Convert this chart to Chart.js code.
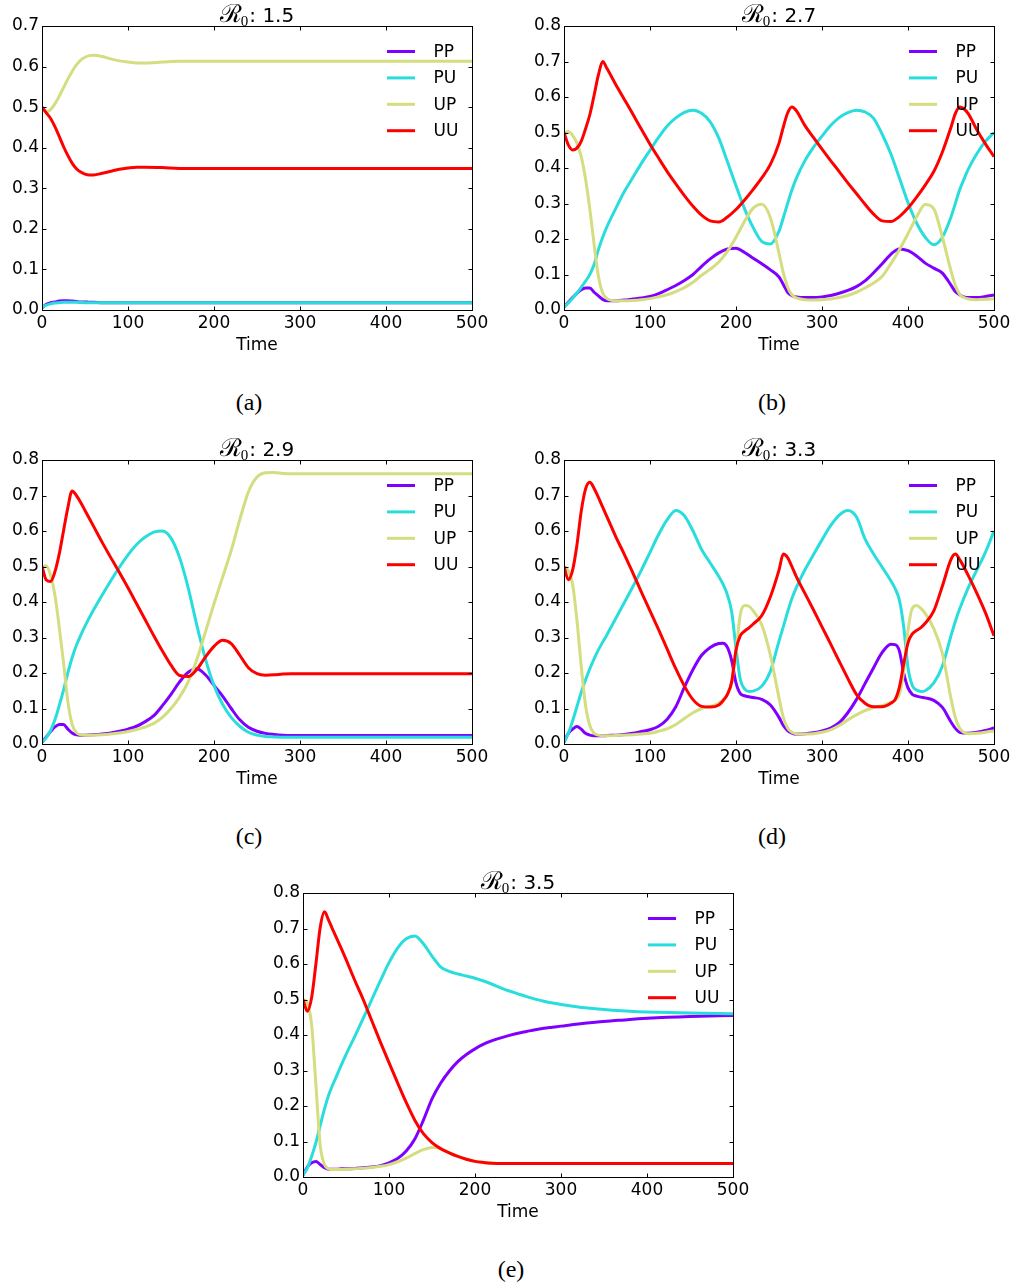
<!DOCTYPE html>
<html>
<head>
<meta charset="utf-8">
<script src="https://cdn.jsdelivr.net/npm/chart.js@4.4.0/dist/chart.umd.min.js"></script>
<style>
  body { margin: 0; background: #fff; }
  #page { position: relative; width: 1019px; height: 1288px; overflow: hidden; background: #fff; }
  .panel { position: absolute; }
  .cap { position: absolute; width: 80px; margin-left: -40px; text-align: center;
         font-family: "Liberation Serif", "DejaVu Serif", serif; font-size: 24px; line-height: 24px; color: #000; }
</style>
</head>
<body>
<div id="page">
  <canvas class="panel" id="chartA" width="496" height="360" style="left:0px;top:0px"></canvas>
  <canvas class="panel" id="chartB" width="496" height="360" style="left:522px;top:0px"></canvas>
  <canvas class="panel" id="chartC" width="496" height="360" style="left:0px;top:434px"></canvas>
  <canvas class="panel" id="chartD" width="496" height="360" style="left:522px;top:434px"></canvas>
  <canvas class="panel" id="chartE" width="496" height="360" style="left:261px;top:867px"></canvas>
  <div class="cap" style="left:249px;top:390px">(a)</div>
  <div class="cap" style="left:772px;top:390px">(b)</div>
  <div class="cap" style="left:249px;top:824px">(c)</div>
  <div class="cap" style="left:772px;top:824px">(d)</div>
  <div class="cap" style="left:511px;top:1257px">(e)</div>
</div>
<script>
// series names and R0 value of each panel
const seriesNames = ['PP', 'PU', 'UP', 'UU'];
const seriesColors = ['#8000ff', '#2adddd', '#d4dd80', '#ff0000'];
const r0Labels = ['1.5', '2.7', '2.9', '3.3', '3.5'];
const xTicks = [0, 100, 200, 300, 400, 500];

// (a) R0 = 1.5
const timeA = [0,5,10,15,20,25,30,35,40,45,50,55,60,70,80,90,100,110,120,140,160,180,200,250,300,350,400,450,500];
const ppA = [0.005,0.014,0.018,0.020,0.022,0.023,0.023,0.022,0.021,0.020,0.020,0.019,0.019,0.018,0.018,0.018,0.018,0.018,0.018,0.018,0.018,0.018,0.018,0.018,0.018,0.018,0.018,0.018,0.018];
const puA = [0.007,0.012,0.015,0.017,0.018,0.019,0.019,0.019,0.019,0.019,0.018,0.018,0.018,0.018,0.018,0.018,0.018,0.018,0.018,0.018,0.018,0.018,0.018,0.018,0.018,0.018,0.018,0.018,0.018];
const upA = [0.500,0.488,0.494,0.508,0.527,0.548,0.569,0.588,0.604,0.616,0.623,0.627,0.628,0.625,0.619,0.614,0.611,0.609,0.609,0.611,0.613,0.613,0.613,0.613,0.613,0.613,0.613,0.613,0.613];
const uuA = [0.500,0.486,0.472,0.452,0.428,0.403,0.381,0.362,0.348,0.340,0.335,0.333,0.333,0.337,0.342,0.347,0.350,0.352,0.352,0.351,0.349,0.349,0.349,0.349,0.349,0.349,0.349,0.349,0.349];

// (b) R0 = 2.7
const timeB = [0,5,10,15,20,25,30,35,40,45,50,60,70,80,90,100,110,120,130,140,150,160,170,180,190,200,210,220,230,240,250,255,260,265,270,280,290,300,310,320,330,340,350,360,370,380,390,400,410,420,430,440,450,455,460,465,470,480,490,500];
const ppB = [0.008,0.022,0.035,0.047,0.057,0.062,0.062,0.050,0.040,0.030,0.026,0.026,0.028,0.031,0.034,0.038,0.046,0.057,0.069,0.083,0.100,0.123,0.144,0.161,0.172,0.174,0.162,0.146,0.130,0.113,0.093,0.072,0.050,0.040,0.037,0.035,0.035,0.037,0.041,0.047,0.055,0.066,0.082,0.105,0.130,0.157,0.172,0.167,0.152,0.132,0.118,0.104,0.070,0.052,0.043,0.037,0.035,0.035,0.038,0.042];
const puB = [0.008,0.020,0.033,0.048,0.064,0.081,0.100,0.128,0.170,0.205,0.235,0.285,0.333,0.373,0.413,0.450,0.486,0.518,0.541,0.557,0.563,0.554,0.530,0.484,0.418,0.350,0.285,0.232,0.193,0.186,0.222,0.260,0.300,0.338,0.370,0.420,0.458,0.490,0.520,0.542,0.556,0.563,0.558,0.540,0.495,0.440,0.372,0.303,0.245,0.205,0.184,0.205,0.262,0.300,0.338,0.368,0.396,0.440,0.475,0.500];
const upB = [0.500,0.503,0.492,0.470,0.432,0.370,0.285,0.185,0.095,0.048,0.032,0.026,0.026,0.027,0.029,0.032,0.037,0.043,0.052,0.063,0.078,0.098,0.115,0.135,0.165,0.205,0.250,0.287,0.298,0.260,0.160,0.105,0.065,0.043,0.034,0.029,0.028,0.029,0.031,0.035,0.041,0.050,0.062,0.076,0.095,0.130,0.170,0.215,0.262,0.297,0.285,0.205,0.110,0.070,0.045,0.035,0.031,0.029,0.030,0.032];
const uuB = [0.500,0.465,0.451,0.456,0.475,0.510,0.550,0.605,0.662,0.700,0.680,0.636,0.594,0.552,0.509,0.467,0.428,0.390,0.355,0.322,0.292,0.267,0.251,0.248,0.262,0.283,0.310,0.340,0.372,0.410,0.470,0.515,0.555,0.572,0.562,0.520,0.486,0.453,0.421,0.390,0.358,0.328,0.298,0.270,0.251,0.249,0.263,0.287,0.318,0.352,0.390,0.445,0.515,0.553,0.572,0.567,0.553,0.508,0.468,0.432];

// (c) R0 = 2.9
const timeC = [0,5,10,15,20,25,30,35,40,45,50,60,70,80,90,100,110,120,130,140,150,160,170,180,190,200,210,220,230,240,250,260,270,280,290,300,350,400,450,500];
const ppC = [0.005,0.020,0.035,0.048,0.055,0.055,0.042,0.031,0.026,0.025,0.025,0.026,0.028,0.031,0.036,0.042,0.050,0.063,0.080,0.108,0.140,0.175,0.202,0.212,0.195,0.165,0.135,0.100,0.068,0.047,0.036,0.030,0.027,0.025,0.024,0.024,0.024,0.024,0.024,0.024];
const puC = [0.005,0.018,0.038,0.068,0.108,0.152,0.200,0.243,0.278,0.306,0.332,0.378,0.420,0.460,0.498,0.533,0.562,0.583,0.597,0.600,0.580,0.525,0.440,0.335,0.240,0.165,0.112,0.075,0.050,0.033,0.025,0.021,0.020,0.019,0.019,0.019,0.019,0.019,0.019,0.019];
const upC = [0.500,0.502,0.475,0.420,0.330,0.230,0.120,0.056,0.032,0.026,0.025,0.025,0.026,0.028,0.031,0.035,0.041,0.048,0.058,0.075,0.100,0.132,0.175,0.238,0.315,0.395,0.470,0.545,0.632,0.710,0.752,0.764,0.765,0.762,0.761,0.761,0.761,0.761,0.761,0.761];
const uuC = [0.500,0.462,0.458,0.485,0.535,0.600,0.665,0.713,0.700,0.680,0.658,0.613,0.568,0.525,0.483,0.440,0.395,0.350,0.305,0.262,0.222,0.193,0.190,0.210,0.245,0.275,0.292,0.283,0.250,0.215,0.198,0.194,0.195,0.197,0.198,0.198,0.198,0.198,0.198,0.198];

// (d) R0 = 3.3
const timeD = [0,5,10,15,20,25,30,35,40,45,50,60,70,80,90,100,110,120,130,140,150,160,170,180,185,190,195,200,205,210,215,220,230,240,250,255,260,265,270,280,290,300,310,320,330,340,350,360,370,380,385,390,395,400,405,410,415,420,430,440,450,455,460,470,480,490,500];
const ppD = [0.005,0.030,0.042,0.049,0.042,0.030,0.025,0.023,0.023,0.023,0.024,0.025,0.027,0.030,0.035,0.040,0.050,0.070,0.105,0.160,0.210,0.250,0.272,0.283,0.284,0.272,0.235,0.172,0.142,0.136,0.133,0.131,0.126,0.110,0.075,0.052,0.038,0.031,0.028,0.029,0.032,0.037,0.045,0.060,0.088,0.125,0.170,0.215,0.258,0.281,0.280,0.262,0.200,0.158,0.140,0.135,0.132,0.130,0.123,0.103,0.062,0.044,0.033,0.030,0.033,0.038,0.045];
const puD = [0.005,0.030,0.065,0.105,0.145,0.180,0.212,0.240,0.265,0.287,0.308,0.353,0.398,0.443,0.490,0.540,0.590,0.632,0.658,0.643,0.600,0.548,0.510,0.472,0.450,0.420,0.372,0.270,0.182,0.155,0.148,0.149,0.163,0.205,0.290,0.330,0.372,0.410,0.440,0.490,0.533,0.575,0.615,0.645,0.658,0.640,0.578,0.535,0.498,0.460,0.438,0.405,0.330,0.215,0.165,0.152,0.148,0.150,0.172,0.220,0.305,0.345,0.380,0.440,0.490,0.540,0.600];
const upD = [0.500,0.488,0.450,0.350,0.220,0.110,0.052,0.030,0.025,0.023,0.023,0.024,0.025,0.026,0.028,0.030,0.036,0.043,0.055,0.072,0.088,0.100,0.106,0.115,0.125,0.140,0.175,0.260,0.365,0.390,0.388,0.375,0.335,0.250,0.130,0.075,0.045,0.033,0.029,0.028,0.029,0.033,0.040,0.052,0.068,0.082,0.094,0.103,0.108,0.117,0.124,0.140,0.205,0.320,0.382,0.390,0.382,0.368,0.325,0.255,0.128,0.075,0.045,0.029,0.030,0.033,0.037];
const uuD = [0.500,0.463,0.490,0.560,0.655,0.718,0.737,0.720,0.695,0.667,0.640,0.585,0.535,0.482,0.428,0.375,0.322,0.267,0.212,0.163,0.125,0.106,0.104,0.110,0.122,0.140,0.175,0.265,0.305,0.318,0.327,0.338,0.362,0.415,0.490,0.535,0.525,0.500,0.472,0.425,0.378,0.330,0.282,0.233,0.185,0.140,0.115,0.105,0.105,0.115,0.125,0.160,0.225,0.285,0.310,0.320,0.328,0.340,0.375,0.445,0.520,0.535,0.520,0.475,0.425,0.370,0.305];

// (e) R0 = 3.5
const timeE = [0,5,10,15,20,25,30,35,40,45,50,60,70,80,90,100,110,120,130,140,150,160,170,180,190,200,210,220,230,240,250,260,270,280,290,300,320,340,360,380,400,450,500];
const ppE = [0.005,0.028,0.040,0.044,0.035,0.026,0.022,0.022,0.022,0.023,0.023,0.024,0.026,0.028,0.032,0.040,0.052,0.073,0.107,0.160,0.220,0.264,0.298,0.325,0.345,0.361,0.374,0.384,0.392,0.399,0.405,0.410,0.415,0.419,0.422,0.425,0.431,0.436,0.440,0.444,0.447,0.452,0.455];
const puE = [0.005,0.025,0.058,0.097,0.145,0.192,0.232,0.262,0.290,0.318,0.345,0.395,0.447,0.500,0.553,0.604,0.645,0.671,0.679,0.657,0.622,0.592,0.579,0.572,0.566,0.560,0.552,0.543,0.533,0.524,0.516,0.508,0.501,0.495,0.490,0.486,0.479,0.474,0.470,0.467,0.465,0.462,0.460];
const upE = [0.500,0.490,0.430,0.260,0.090,0.035,0.023,0.021,0.021,0.021,0.022,0.023,0.025,0.027,0.030,0.035,0.043,0.053,0.066,0.077,0.083,0.080,0.068,0.058,0.050,0.044,0.041,0.039,0.038,0.038,0.038,0.038,0.038,0.038,0.038,0.038,0.038,0.038,0.038,0.038,0.038,0.038,0.038];
const uuE = [0.500,0.467,0.505,0.600,0.703,0.747,0.722,0.695,0.668,0.641,0.613,0.555,0.500,0.440,0.380,0.322,0.265,0.210,0.160,0.122,0.097,0.080,0.068,0.058,0.050,0.044,0.041,0.039,0.038,0.038,0.038,0.038,0.038,0.038,0.038,0.038,0.038,0.038,0.038,0.038,0.038,0.038,0.038];

const SANS = '"DejaVu Sans", sans-serif';

// box round the axes with inward ticks on all four sides (matplotlib look)
const framePlugin = {
    id: 'frame',
    afterDraw(chart) {
        const { ctx, chartArea: a, scales } = chart;
        const L = Math.round(a.left) + 0.5, R = Math.round(a.right) + 0.5;
        const T = Math.round(a.top) + 0.5, B = Math.round(a.bottom) + 0.5;
        ctx.save();
        ctx.strokeStyle = '#000';
        ctx.lineWidth = 1;
        ctx.strokeRect(L, T, R - L, B - T);
        ctx.beginPath();
        scales.x.ticks.forEach(t => {
            const px = Math.round(scales.x.getPixelForValue(t.value)) + 0.5;
            ctx.moveTo(px, B); ctx.lineTo(px, B - 4);
            ctx.moveTo(px, T); ctx.lineTo(px, T + 4);
        });
        scales.y.ticks.forEach(t => {
            const py = Math.round(scales.y.getPixelForValue(t.value)) + 0.5;
            ctx.moveTo(L, py); ctx.lineTo(L + 4, py);
            ctx.moveTo(R, py); ctx.lineTo(R - 4, py);
        });
        ctx.stroke();
        ctx.restore();
    }
};

// frameless legend in the upper right corner
const legendPlugin = {
    id: 'cornerLegend',
    afterDatasetsDraw(chart) {
        const { ctx, chartArea: a } = chart;
        ctx.save();
        ctx.font = '17px ' + SANS;
        ctx.textBaseline = 'middle';
        ctx.textAlign = 'left';
        chart.data.datasets.forEach((ds, i) => {
            const y = a.top + 25.5 + i * 26.4;
            ctx.strokeStyle = ds.borderColor;
            ctx.lineWidth = 3;
            ctx.beginPath();
            ctx.moveTo(a.right - 85, y);
            ctx.lineTo(a.right - 57, y);
            ctx.stroke();
            ctx.fillStyle = '#000';
            ctx.fillText(ds.label, a.right - 38.5, y + 1);
        });
        ctx.restore();
    }
};

// title "R_0: value" with a script R and a subscript zero
const titlePlugin = {
    id: 'r0title',
    afterDraw(chart, args, opts) {
        const { ctx, chartArea: a } = chart;
        const base = a.top - 4;
        const fR = '25px "DejaVu Serif", serif';
        const fSub = '15px "Liberation Serif", serif';
        const fTxt = '20px ' + SANS;
        const rest = ': ' + opts.value;
        ctx.save();
        ctx.fillStyle = '#000';
        ctx.textBaseline = 'alphabetic';
        ctx.font = fR; const wR = ctx.measureText('\u211B').width;
        ctx.font = fSub; const wS = ctx.measureText('0').width;
        ctx.font = fTxt; const wT = ctx.measureText(rest).width;
        let x = (a.left + a.right) / 2 - (wR + wS + wT) / 2;
        ctx.font = fR; ctx.fillText('\u211B', x, base); x += wR - 1;
        ctx.font = fSub; ctx.fillText('0', x, base + 4); x += wS + 1;
        ctx.font = fTxt; ctx.fillText(rest, x, base);
        ctx.restore();
    }
};

function makePanel(id, r0, time, series, yMax) {
    const datasets = seriesNames.map((name, i) => ({
        label: name,
        data: time.map((t, k) => ({ x: t, y: series[i][k] })),
        borderColor: seriesColors[i],
        backgroundColor: seriesColors[i],
        borderWidth: 3,
        pointRadius: 0,
        fill: false,
        cubicInterpolationMode: 'monotone',
        order: seriesNames.length - i
    }));
    return new Chart(document.getElementById(id), {
        type: 'line',
        data: { datasets },
        plugins: [legendPlugin, framePlugin, titlePlugin],
        options: {
            responsive: false,
            animation: false,
            events: [],
            layout: { padding: { top: 26, right: 24, left: 0, bottom: 0 } },
            plugins: {
                legend: { display: false },
                tooltip: { enabled: false },
                r0title: { value: r0 }
            },
            scales: {
                x: {
                    type: 'linear', min: 0, max: 500,
                    afterBuildTicks: s => { s.ticks = xTicks.map(v => ({ value: v })); },
                    ticks: { color: '#000', font: { family: SANS, size: 17 }, padding: 3, maxRotation: 0, autoSkip: false },
                    grid: { display: false, drawTicks: false },
                    border: { display: false },
                    title: { display: true, text: 'Time', color: '#000', font: { family: SANS, size: 17 }, padding: { top: 0, bottom: 4 } },
                    afterFit: s => { s.height = 50; }
                },
                y: {
                    min: 0, max: yMax,
                    ticks: { stepSize: 0.1, color: '#000', font: { family: SANS, size: 17 }, padding: 3,
                             callback: v => v.toFixed(1) },
                    grid: { display: false, drawTicks: false },
                    border: { display: false },
                    afterFit: s => { s.width = 42; }
                }
            }
        }
    });
}

makePanel('chartA', r0Labels[0], timeA, [ppA, puA, upA, uuA], 0.7);
makePanel('chartB', r0Labels[1], timeB, [ppB, puB, upB, uuB], 0.8);
makePanel('chartC', r0Labels[2], timeC, [ppC, puC, upC, uuC], 0.8);
makePanel('chartD', r0Labels[3], timeD, [ppD, puD, upD, uuD], 0.8);
makePanel('chartE', r0Labels[4], timeE, [ppE, puE, upE, uuE], 0.8);
</script>
</body>
</html>
